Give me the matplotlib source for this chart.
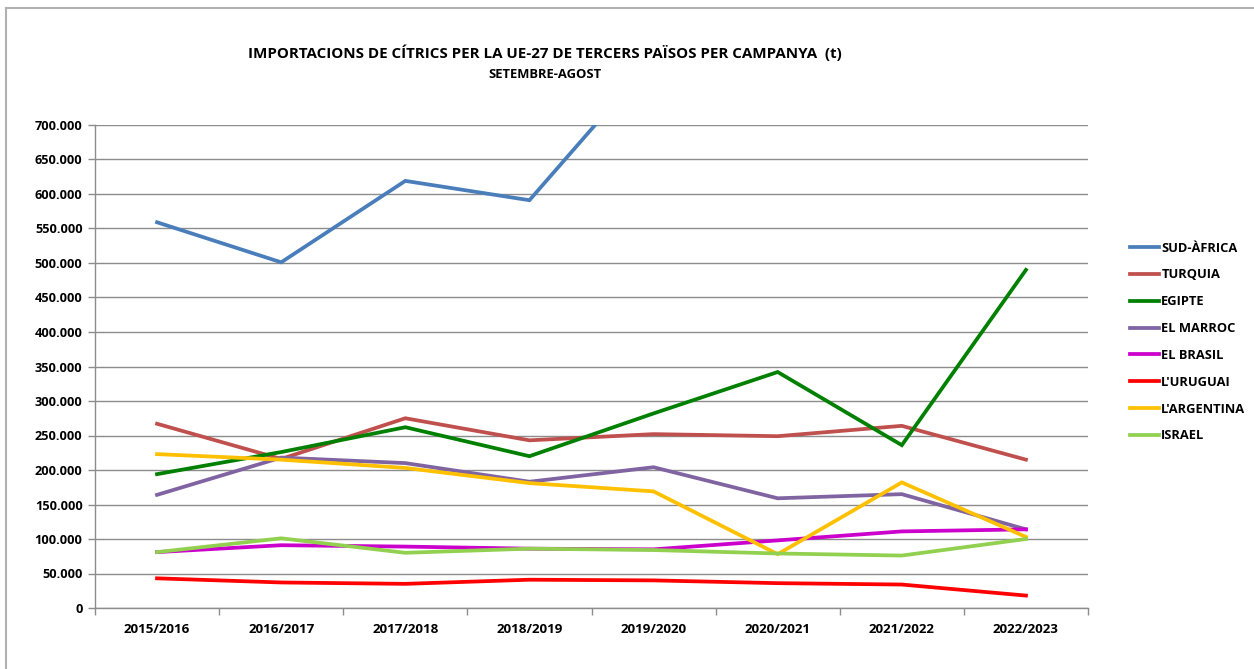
import matplotlib
matplotlib.use("Agg")
import matplotlib.pyplot as plt
from matplotlib.lines import Line2D
from matplotlib.ticker import FuncFormatter, MultipleLocator, FixedLocator

campanyes = ["2015/2016", "2016/2017", "2017/2018", "2018/2019",
             "2019/2020", "2020/2021", "2021/2022", "2022/2023"]

sud_africa = [559000, 501000, 619000, 591000, 797000, 780000, 790000, 820000]
turquia = [267000, 216000, 275000, 243000, 252000, 249000, 264000, 215000]
egipte = [194000, 226000, 262000, 220000, 282000, 342000, 236000, 490000]
el_marroc = [164000, 218000, 210000, 183000, 204000, 159000, 165000, 114000]
el_brasil = [81000, 91000, 89000, 86000, 85000, 98000, 111000, 114000]
l_uruguai = [43000, 37000, 35000, 41000, 40000, 36000, 34000, 18000]
l_argentina = [223000, 215000, 203000, 181000, 169000, 78000, 182000, 103000]
israel = [81000, 101000, 80000, 86000, 84000, 79000, 76000, 100000]

series = [
    ("SUD-ÀFRICA", sud_africa, "#4a7ebb"),
    ("TURQUIA", turquia, "#c0504d"),
    ("EGIPTE", egipte, "#008000"),
    ("EL MARROC", el_marroc, "#8064a2"),
    ("EL BRASIL", el_brasil, "#cc00cc"),
    ("L'URUGUAI", l_uruguai, "#ff0000"),
    ("L'ARGENTINA", l_argentina, "#ffc000"),
    ("ISRAEL", israel, "#92d050"),
]

FONT = ["Open Sans", "DejaVu Sans"]
plt.rcParams["font.family"] = FONT

fig = plt.figure(figsize=(12.54, 6.69), dpi=100)
ax = fig.add_axes([95/1254, 1 - 608/669, (1088-95)/1254, (608-125)/669])

x = list(range(len(campanyes)))
for name, vals, col in series:
    ax.plot(x, vals, color=col, lw=2.7, label=name, solid_joinstyle="miter")

ax.set_xlim(-0.5, len(campanyes) - 0.5)
ax.set_ylim(0, 700000)
ax.yaxis.set_major_locator(MultipleLocator(50000))
ax.yaxis.set_major_formatter(FuncFormatter(lambda v, p: f"{int(v):,}".replace(",", ".")))
ax.grid(axis="y", color="#8c8c8c", lw=1.0)
ax.set_axisbelow(True)

ax.set_xticks(x)
ax.set_xticklabels(campanyes)
ax.xaxis.set_minor_locator(FixedLocator([i - 0.5 for i in range(len(campanyes) + 1)]))
ax.tick_params(axis="x", which="major", length=0, pad=11)
ax.tick_params(axis="x", which="minor", length=5, color="#8c8c8c", width=1)
ax.tick_params(axis="y", length=5, color="#8c8c8c", width=1, pad=4)
for lab in ax.get_xticklabels():
    lab.set_fontweight("bold")
    lab.set_fontsize(9.6)
for lab in ax.get_yticklabels():
    lab.set_fontweight("bold")
    lab.set_fontsize(9.2)

for s in ["top", "right"]:
    ax.spines[s].set_visible(False)
for s in ["left", "bottom"]:
    ax.spines[s].set_color("#8c8c8c")
    ax.spines[s].set_linewidth(1)

fig.text(545/1254, 1 - 53/669, "IMPORTACIONS DE CÍTRICS PER LA UE-27 DE TERCERS PAÏSOS PER CAMPANYA  (t)",
         ha="center", va="center", fontsize=10.9, fontweight="bold")
fig.text(545/1254, 1 - 74/669, "SETEMBRE-AGOST", ha="center", va="center",
         fontsize=9.4, fontweight="bold")

leg = fig.legend(loc="upper left", bbox_to_anchor=(1118/1254, 1 - 230/669), frameon=False,
                 prop={"weight": "bold", "size": 9.3}, handlelength=2.3, handletextpad=0.15,
                 labelspacing=1.07)

fig.add_artist(Line2D([6/1254, 1], [1 - 8/669, 1 - 8/669], color="#b0b0b0", lw=1.5))
fig.add_artist(Line2D([6/1254, 6/1254], [0, 1 - 8/669], color="#b0b0b0", lw=1.5))

fig.savefig("out.png", dpi=100, facecolor="white")
